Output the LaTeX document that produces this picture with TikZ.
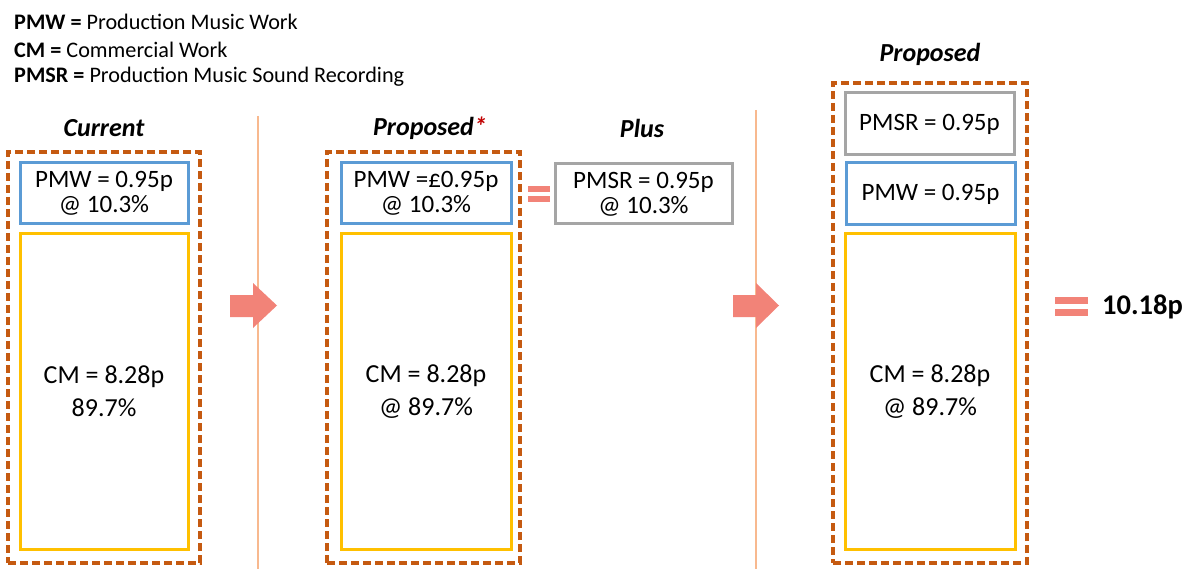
\documentclass[tikz,border=0pt]{standalone}
\usepackage{fontspec}
\setmainfont{Carlito}
\definecolor{dashor}{HTML}{C55A11}
\definecolor{bblue}{HTML}{5B9BD5}
\definecolor{byellow}{HTML}{FFC000}
\definecolor{bgray}{HTML}{A5A5A5}
\definecolor{salmon}{HTML}{F28378}
\definecolor{peach}{HTML}{F8B98F}
\definecolor{darkred}{HTML}{C00000}
\tikzset{
  group/.style={draw=dashor,line width=3.2pt,dash pattern=on 8pt off 4pt,rectangle,inner sep=0pt},
  pmwbox/.style={draw=bblue,line width=3pt,rectangle,inner sep=0pt,align=center,font=\fontsize{25}{25}\selectfont},
  srbox/.style={draw=bgray,line width=3pt,rectangle,inner sep=0pt,align=center,font=\fontsize{25}{25}\selectfont},
  cmbox/.style={draw=byellow,line width=3pt,rectangle,inner sep=0pt,align=center,font=\fontsize{26}{33}\selectfont},
  title/.style={font=\fontsize{26}{30}\selectfont\bfseries\itshape,inner sep=0pt},
  legend/.style={font=\fontsize{22.2}{26}\selectfont,anchor=west,inner sep=0pt},
  sep/.style={draw=peach,line width=1.5pt},
  eqbar/.style={fill=salmon},
  bigarrow/.style={fill=salmon}
}
\begin{document}
\begin{tikzpicture}[x=1pt,y=-1pt]
\useasboundingbox (0,0) rectangle (1188,569);
% legend
\node[legend] (l1) at (14,22) {\textbf{PMW =} Production Music Work};
\node[legend] (l2) at (14,50) {\textbf{CM =} Commercial Work};
\node[legend] (l3) at (14,77) {\textbf{PMSR =} Production Music Sound Recording};
% separators
\coordinate (s1t) at (258,116); \coordinate (s1b) at (258,569);
\coordinate (s2t) at (756,110); \coordinate (s2b) at (756,569);
\draw[sep] (s1t) -- (s1b);
\draw[sep] (s2t) -- (s2b);
% current
\node[title] (tcur) at (104,128) {Current};
\node[group,minimum width=192pt,minimum height=411pt] (gcur) at (104,357.5) {};
\node[pmwbox,minimum width=168pt,minimum height=61pt] (pmw1) at (104,193.5) {PMW = 0.95p\\@ 10.3\%};
\node[cmbox,minimum width=168pt,minimum height=315pt] (cm1) at (104,391.5) {CM = 8.28p\\89.7\%};
% arrow 1
\fill[bigarrow] (230,295) -- (253,295) -- (253,283) -- (277,305.5) -- (253,328) -- (253,317) -- (230,317) -- cycle;
% proposed*
\node[title] (tprop) at (430,128) {Proposed\textcolor{darkred}{*}};
\node[group,minimum width=193pt,minimum height=411pt] (gprop) at (423.5,357.5) {};
\node[pmwbox,minimum width=170pt,minimum height=61pt] (pmw2) at (426,193.5) {PMW =£0.95p\\@ 10.3\%};
\node[cmbox,minimum width=170pt,minimum height=315pt] (cm2) at (426,391.5) {CM = 8.28p\\@ 89.7\%};
\fill[eqbar] (528,186) rectangle (550,192);
\fill[eqbar] (528,196) rectangle (550,202);
% plus
\node[title] (tplus) at (642,128) {Plus};
\node[srbox,minimum width=177pt,minimum height=60pt] (sr1) at (643.5,194) {PMSR = 0.95p\\@ 10.3\%};
% arrow 2
\fill[bigarrow] (733,295) -- (756,295) -- (756,283) -- (779,305.5) -- (756,328) -- (756,317) -- (733,317) -- cycle;
% proposed final
\node[title] (tfin) at (930,54) {Proposed};
\node[group,minimum width=194pt,minimum height=480pt] (gfin) at (930,323) {};
\node[srbox,minimum width=169pt,minimum height=62pt] (sr2) at (929.5,124) {PMSR = 0.95p};
\node[pmwbox,minimum width=169pt,minimum height=62pt] (pmw3) at (930.5,194) {PMW = 0.95p};
\node[cmbox,minimum width=170pt,minimum height=315pt] (cm3) at (930,391.5) {CM = 8.28p\\@ 89.7\%};
% result
\fill[eqbar] (1055,297) rectangle (1088,304);
\fill[eqbar] (1055,309) rectangle (1088,316);
\node[font=\fontsize{28.5}{32}\selectfont\bfseries,anchor=west,inner sep=0pt] (res) at (1102,306.5) {10.18p};
\end{tikzpicture}
\end{document}
